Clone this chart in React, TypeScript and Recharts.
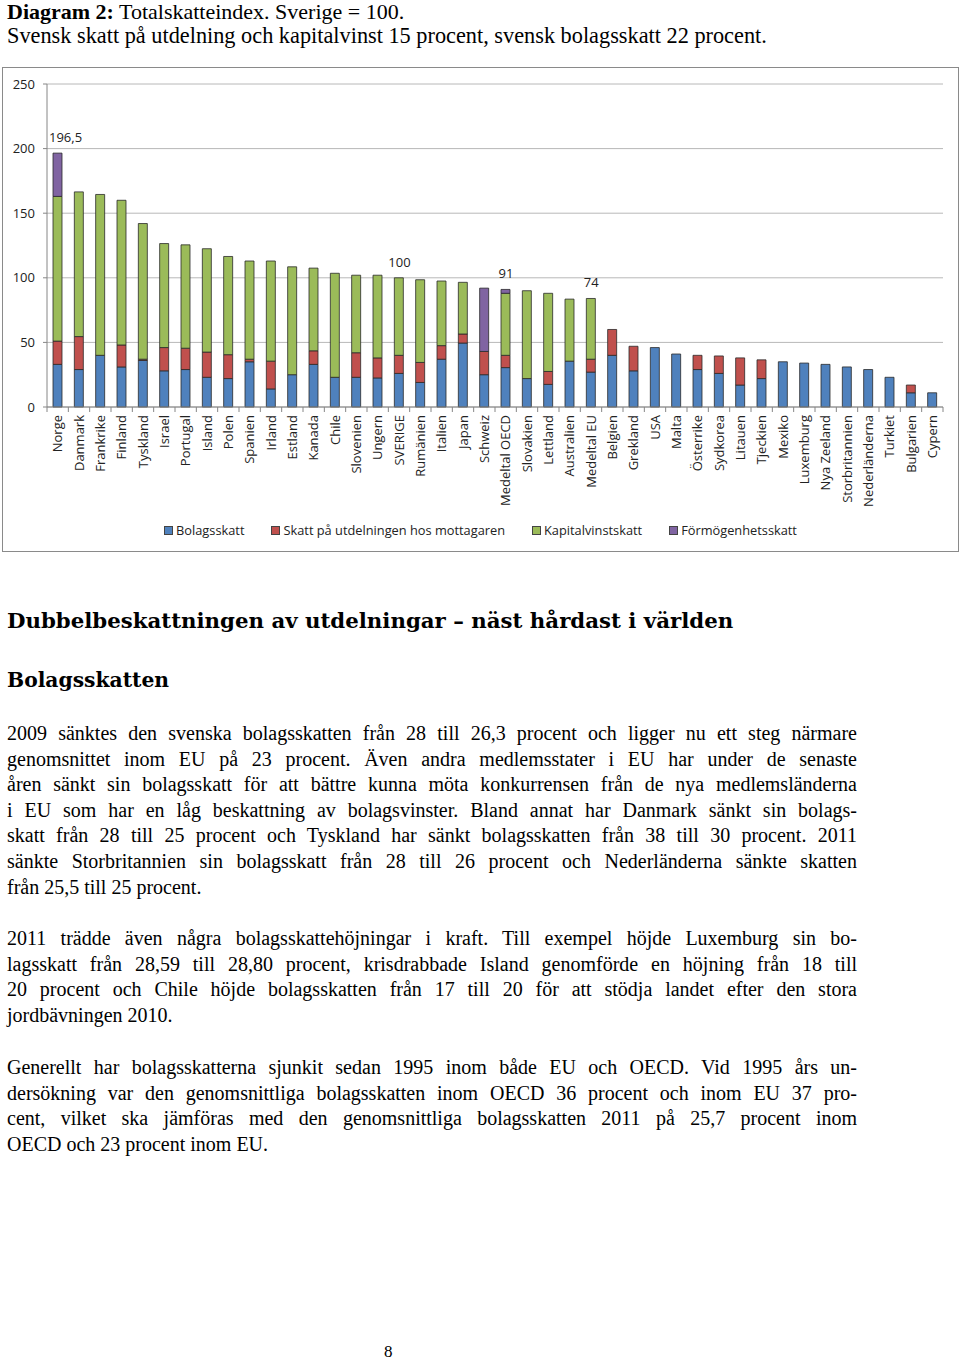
import React from 'react'
import { BarChart, Bar, XAxis, YAxis, CartesianGrid, LabelList } from 'recharts'

const categories = [
  'Norge', 'Danmark', 'Frankrike', 'Finland', 'Tyskland', 'Israel', 'Portugal', 'Island', 'Polen', 'Spanien',
  'Irland', 'Estland', 'Kanada', 'Chile', 'Slovenien', 'Ungern', 'SVERIGE', 'Rumänien', 'Italien', 'Japan',
  'Schweiz', 'Medeltal OECD', 'Slovakien', 'Lettland', 'Australien', 'Medeltal EU', 'Belgien', 'Grekland', 'USA', 'Malta',
  'Österrike', 'Sydkorea', 'Litauen', 'Tjeckien', 'Mexiko', 'Luxemburg', 'Nya Zeeland', 'Storbritannien', 'Nederländerna', 'Turkiet',
  'Bulgarien', 'Cypern',
]

const bolagsskatt = [
  33, 29, 40, 31, 36, 28, 29, 23, 22, 35,
  14, 25, 33, 23, 23, 22.5, 26, 19, 37, 49.5,
  25, 30.5, 22, 17.5, 35.5, 27, 40, 28, 46, 41,
  29, 26, 17, 22, 35, 34, 33, 31, 29, 23,
  11, 11,
]

const utdelning = [
  18, 25.5, 0, 17, 1, 18, 16.5, 19.5, 18.5, 2,
  21.5, 0, 10.5, 0, 19, 15.5, 14, 15.5, 10.5, 7,
  18, 9.5, 0, 10, 0, 10, 20, 19, 0, 0,
  11, 13.5, 21, 14.5, 0, 0, 0, 0, 0, 0,
  6, 0,
]

const kapitalvinst = [
  112, 112, 124.5, 112, 105, 80.5, 80, 80, 76, 76,
  77.5, 83.5, 64, 80.5, 60, 64, 60, 64, 50, 40,
  0, 48, 68, 60.5, 48, 47, 0, 0, 0, 0,
  0, 0, 0, 0, 0, 0, 0, 0, 0, 0,
  0, 0,
]

const formogenhet = [
  33.5, 0, 0, 0, 0, 0, 0, 0, 0, 0,
  0, 0, 0, 0, 0, 0, 0, 0, 0, 0,
  49, 3, 0, 0, 0, 0, 0, 0, 0, 0,
  0, 0, 0, 0, 0, 0, 0, 0, 0, 0,
  0, 0,
]

const yTicks = [0, 50, 100, 150, 200, 250]
const annotatedCategories = ['Norge', 'SVERIGE', 'Medeltal OECD', 'Medeltal EU']
const annotationTexts = ['196,5', '100', '91', '74']

const series = [
  { key: 'bolagsskatt', name: 'Bolagsskatt', color: '#4F81BD' },
  { key: 'utdelning', name: 'Skatt på utdelningen hos mottagaren', color: '#C0504D' },
  { key: 'kapitalvinst', name: 'Kapitalvinstskatt', color: '#9BBB59' },
  { key: 'formogenhet', name: 'Förmögenhetsskatt', color: '#8064A2' },
]

const data = categories.map((land, i) => {
  const row: any = {
    land,
    bolagsskatt: bolagsskatt[i],
    utdelning: utdelning[i],
    kapitalvinst: kapitalvinst[i],
    formogenhet: formogenhet[i],
  }
  // the annotation goes on whichever series is on top of the stack
  const note = annotationTexts[annotatedCategories.indexOf(land)] ?? ''
  let top = series[0].key
  series.forEach((s) => {
    if (row[s.key] > 0) top = s.key
  })
  series.forEach((s) => {
    row[`note_${s.key}`] = s.key === top ? note : ''
  })
  return row
})

const CHART_W = 955
const CHART_H = 483
const Y_W = 44
const M_RIGHT = 15
const band = (CHART_W - Y_W - M_RIGHT) / categories.length
const chartFont = "'Open Sans', 'Noto Sans', sans-serif"
const serif = "'Liberation Serif', 'Times New Roman', serif"

function CategoryTick({ x, y, payload, index }: any) {
  const last = index === categories.length - 1
  return (
    <g>
      <line x1={x - band / 2} x2={x - band / 2} y1={y} y2={y + 5} stroke="#868686" />
      {last && <line x1={x + band / 2} x2={x + band / 2} y1={y} y2={y + 5} stroke="#868686" />}
      <text
        transform={`translate(${x},${y + 8}) rotate(-90)`}
        textAnchor="end"
        dy="0.35em"
        fontSize={13}
        fontFamily={chartFont}
        fill="#222"
      >
        {payload.value}
      </text>
    </g>
  )
}

function NoteLabel({ x, y, width, value }: any) {
  if (!value) return null
  // keep the label inside the plot area, like the spreadsheet does
  const w = String(value).length * 7
  const left = Math.max(x + width / 2 - w / 2, Y_W + 2)
  return (
    <text x={left} y={y - 11} textAnchor="start" fontSize={13} fontFamily={chartFont} fill="#222">
      {value}
    </text>
  )
}

const bodyLines = [
  [
    '2009 sänktes den svenska bolagsskatten från 28 till 26,3 procent och ligger nu ett steg närmare',
    'genomsnittet inom EU på 23 procent. Även andra medlemsstater i EU har under de senaste',
    'åren sänkt sin bolagsskatt för att bättre kunna möta konkurrensen från de nya medlemsländerna',
    'i EU som har en låg beskattning av bolagsvinster. Bland annat har Danmark sänkt sin bolags-',
    'skatt från 28 till 25 procent och Tyskland har sänkt bolagsskatten från 38 till 30 procent. 2011',
    'sänkte Storbritannien sin bolagsskatt från 28 till 26 procent och Nederländerna sänkte skatten',
    'från 25,5 till 25 procent.',
  ],
  [
    '2011 trädde även några bolagsskattehöjningar i kraft. Till exempel höjde Luxemburg sin bo-',
    'lagsskatt från 28,59 till 28,80 procent, krisdrabbade Island genomförde en höjning från 18 till',
    '20 procent och Chile höjde bolagsskatten från 17 till 20 för att stödja landet efter den stora',
    'jordbävningen 2010.',
  ],
  [
    'Generellt har bolagsskatterna sjunkit sedan 1995 inom både EU och OECD. Vid 1995 års un-',
    'dersökning var den genomsnittliga bolagsskatten inom OECD 36 procent och inom EU 37 pro-',
    'cent, vilket ska jämföras med den genomsnittliga bolagsskatten 2011 på 25,7 procent inom',
    'OECD och 23 procent inom EU.',
  ],
]
const paragraphTops = [721, 926, 1055]
const LINE_H = 25.6

const headingStyle = {
  position: 'absolute' as const,
  left: 7,
  fontFamily: "'DejaVu Serif', serif",
  fontWeight: 'bold' as const,
  lineHeight: '30px',
  whiteSpace: 'nowrap' as const,
}

export default function App() {
  return (
    <div style={{ position: 'absolute', left: 0, top: 0, width: 960, height: 1360, background: '#fff', color: '#000' }}>
      <div style={{ position: 'absolute', left: 7, top: 0, fontFamily: serif, fontSize: 22, lineHeight: '24px', whiteSpace: 'nowrap' }}>
        <b>Diagram 2:</b> Totalskatteindex. Sverige = 100.
      </div>
      <div style={{ position: 'absolute', left: 7, top: 25.5, fontFamily: serif, fontSize: 22.3, lineHeight: '20px', whiteSpace: 'nowrap' }}>
        Svensk skatt på utdelning och kapitalvinst 15 procent, svensk bolagsskatt 22 procent.
      </div>

      <div
        style={{
          position: 'absolute',
          left: 2,
          top: 67,
          width: CHART_W + 2,
          height: CHART_H + 2,
          boxSizing: 'border-box',
          border: '1px solid #8a8a8a',
        }}
      >
        <BarChart
          width={CHART_W}
          height={CHART_H}
          data={data}
          margin={{ top: 16, right: M_RIGHT, left: 0, bottom: 34 }}
          barSize={9}
        >
          <CartesianGrid vertical={false} stroke="#b8b8b8" />
          <XAxis
            dataKey="land"
            interval={0}
            height={110}
            tickSize={0}
            tickMargin={0}
            tickLine={false}
            axisLine={{ stroke: '#868686' }}
            tick={<CategoryTick />}
          />
          <YAxis
            width={Y_W}
            domain={[0, 250]}
            ticks={yTicks}
            tickSize={4}
            tickMargin={8}
            axisLine={{ stroke: '#868686' }}
            tickLine={{ stroke: '#868686' }}
            tick={{ fontSize: 13, fill: '#222', fontFamily: chartFont }}
          />
          {series.map((s) => (
            <Bar
              key={s.key}
              dataKey={s.key}
              name={s.name}
              stackId="total"
              fill={s.color}
              stroke="#2a2a2a"
              strokeWidth={0.8}
              isAnimationActive={false}
            >
              <LabelList dataKey={`note_${s.key}`} content={<NoteLabel />} />
            </Bar>
          ))}
        </BarChart>
        <div
          style={{
            position: 'absolute',
            left: 0,
            width: CHART_W,
            top: 453,
            display: 'flex',
            justifyContent: 'center',
            gap: 27,
            fontFamily: chartFont,
            fontSize: 12.8,
            color: '#222',
          }}
        >
          {series.map((s) => (
            <div key={s.key} style={{ display: 'flex', alignItems: 'center', gap: 3 }}>
              <span style={{ width: 7, height: 7, background: s.color, border: '1px solid #444', display: 'inline-block' }} />
              <span>{s.name}</span>
            </div>
          ))}
        </div>
      </div>

      <div style={{ ...headingStyle, top: 606, fontSize: 21.3 }}>
        Dubbelbeskattningen av utdelningar – näst hårdast i världen
      </div>
      <div style={{ ...headingStyle, top: 665, fontSize: 20.3 }}>Bolagsskatten</div>

      {bodyLines.map((para, p) =>
        para.map((line, i) => {
          const isLast = i === para.length - 1
          return (
            <div
              key={`${p}-${i}`}
              style={{
                position: 'absolute',
                left: 7,
                width: 850,
                top: paragraphTops[p] + i * LINE_H,
                fontFamily: serif,
                fontSize: 20,
                lineHeight: '24px',
                whiteSpace: 'nowrap',
                textAlign: isLast ? 'left' : 'justify',
                textAlignLast: isLast ? 'left' : 'justify',
              }}
            >
              {line}
            </div>
          )
        })
      )}

      <div style={{ position: 'absolute', left: 384, top: 1342, fontFamily: serif, fontSize: 17, lineHeight: '20px' }}>8</div>
    </div>
  )
}
